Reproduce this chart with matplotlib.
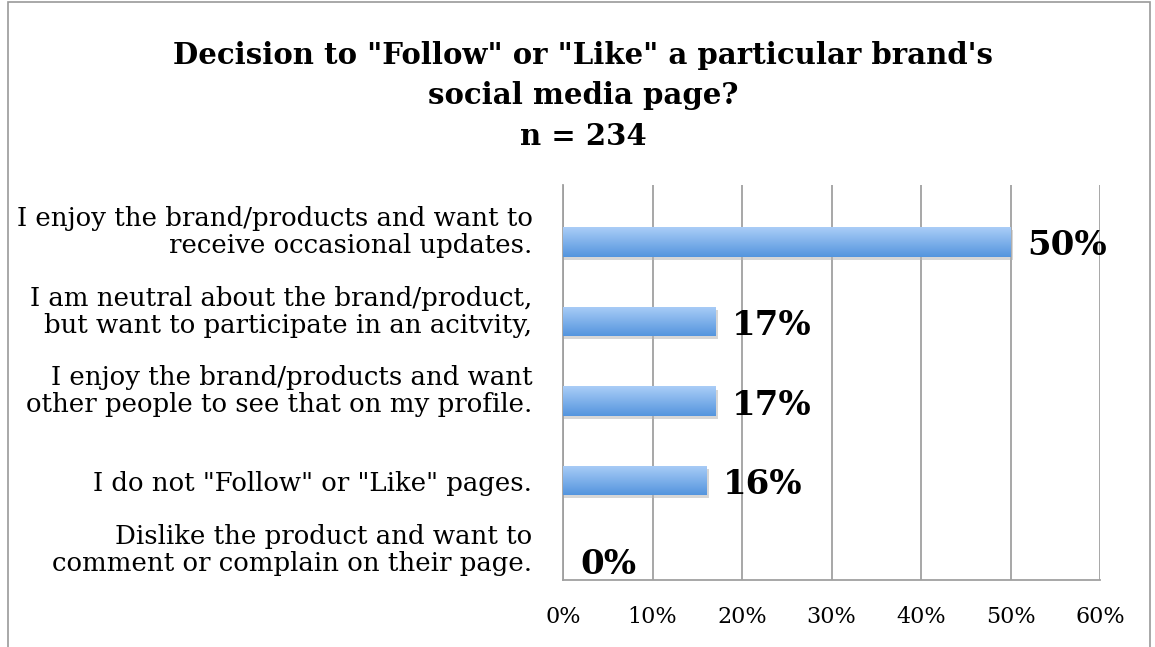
import numpy as np
import matplotlib
matplotlib.use('Agg')
import matplotlib.pyplot as plt
from matplotlib.patches import Rectangle
from matplotlib.ticker import MultipleLocator, PercentFormatter

categories = [
    'I enjoy the brand/products and want to\nreceive occasional updates.',
    'I am neutral about the brand/product,\nbut want to participate in an acitvity,',
    'I enjoy the brand/products and want\nother people to see that on my profile.',
    'I do not "Follow" or "Like" pages.',
    'Dislike the product and want to\ncomment or complain on their page.',
]
values = [50, 17, 17, 16, 0]
title = 'Decision to "Follow" or "Like" a particular brand\'s\nsocial media page?\nn = 234'

fig = plt.figure(figsize=(11.55, 6.47), dpi=100)
ax = fig.add_axes([563 / 1155, 1 - 580 / 647, (1100 - 563) / 1155, (580 - 185) / 647])

y = np.arange(len(categories))
bars = ax.barh(y, values, height=0.37, color='#7fb2ec', zorder=3)

# vertical gradient inside each bar
grad = np.linspace(0, 1, 64).reshape(-1, 1)
cmap = matplotlib.colors.LinearSegmentedColormap.from_list('b', ['#aacdf7', '#5495de'])
for b in bars:
    x0, y0 = b.get_x(), b.get_y()
    w, h = b.get_width(), b.get_height()
    if w <= 0:
        continue
    # soft shadow
    ax.add_patch(Rectangle((x0, y0 + 0.04), w + 0.3, h, color='#b5b5b5', alpha=0.55, zorder=2, lw=0))
    im = ax.imshow(grad, extent=(x0, x0 + w, y0 + h, y0), cmap=cmap, aspect='auto',
                   zorder=4, origin='upper')
    im.set_clip_path(b)

for yi, v in zip(y, values):
    ax.text(v + 1.9, yi + 0.05, f'{v}%', va='center', ha='left', fontsize=24.5,
            fontweight='bold', family='DejaVu Serif', zorder=5)

ax.set_xlim(0, 60)
ax.set_ylim(4.25, -0.717)
ax.xaxis.set_major_locator(MultipleLocator(10))
ax.xaxis.set_major_formatter(PercentFormatter(decimals=0))
# two-line labels sit slightly above the bar centre
ax.set_yticks([yi - 0.17 if '\n' in c else yi for yi, c in zip(y, categories)])
ax.set_yticklabels(categories, family='DejaVu Serif', fontsize=18.7, ha='right',
                   multialignment='right', linespacing=1.1)
for lbl in ax.get_xticklabels():
    lbl.set_family('DejaVu Serif')
    lbl.set_fontsize(16)
ax.tick_params(axis='x', length=0, pad=19)
ax.tick_params(axis='y', length=0, pad=22)
ax.grid(axis='x', color='#a0a0a0', lw=1.3, zorder=0)
for s in ['top', 'right']:
    ax.spines[s].set_visible(False)
ax.spines['left'].set_color('#a0a0a0')
ax.spines['bottom'].set_color('#a0a0a0')
ax.spines['left'].set_linewidth(1.3)
ax.spines['bottom'].set_linewidth(1.3)

fig.text(0.505, 0.937, title, ha='center', va='top', fontsize=21, fontweight='bold',
         family='DejaVu Serif', linespacing=1.5)

# chart border
fig.add_artist(Rectangle((8 / 1155, -0.01), 1142 / 1155, 1.007, transform=fig.transFigure,
                         fill=False, edgecolor='#9a9a9a', lw=1.2))

fig.savefig('out.png', dpi=100)
